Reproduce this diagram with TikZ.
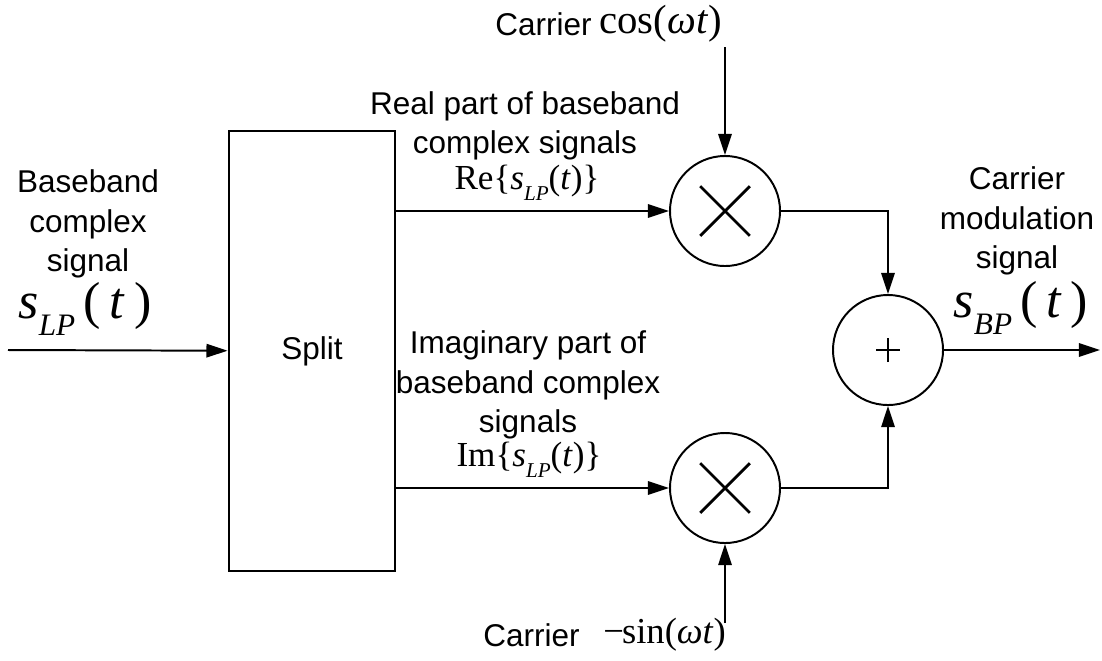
\documentclass[tikz,border=0pt]{standalone}
\usepackage{fontspec}
\setmainfont{Liberation Sans}
\newfontfamily\tnr{Liberation Serif}
\usetikzlibrary{arrows.meta}
\newcommand{\sub}[2]{\textit{#1}\raisebox{-0.32em}{\scalebox{0.6}{\textit{#2}}}}
\begin{document}
\begin{tikzpicture}[x=0.025cm, y=-0.025cm]
        \tikzstyle{proc} = [rectangle, draw=black, line width=2pt, minimum width=4.15cm, minimum height=11cm, text centered, font=\fontsize{22.4}{28}\selectfont]
        \tikzstyle{mult} = [circle, draw=black, line width=1.4pt, minimum size=2.75cm, inner sep=0pt,
            path picture={\draw[line width=2pt] ([shift={(-0.62cm,-0.62cm)}]path picture bounding box.center) -- ([shift={(0.62cm,0.62cm)}]path picture bounding box.center);
                          \draw[line width=2pt] ([shift={(-0.62cm,0.62cm)}]path picture bounding box.center) -- ([shift={(0.62cm,-0.62cm)}]path picture bounding box.center);}]
        \tikzstyle{sum} = [circle, draw=black, line width=1.4pt, minimum size=2.75cm, inner sep=0pt,
            path picture={\draw[line width=1.1pt] ([xshift=-0.3cm]path picture bounding box.center) -- ([xshift=0.3cm]path picture bounding box.center);
                          \draw[line width=1.1pt] ([yshift=-0.3cm]path picture bounding box.center) -- ([yshift=0.3cm]path picture bounding box.center);}]
        \tikzstyle{lbl} = [align=center, inner sep=0pt, font=\fontsize{22.4}{28}\selectfont]
        \tikzstyle{mth} = [inner sep=0pt, font=\tnr]
        \tikzstyle{arrow} = [line width=1.4pt, -{Triangle[length=15pt, width=9.5pt]}]
        \useasboundingbox (0,0) rectangle (1102,660);
        % blocks
        \node (split) [proc] at (312, 351) {Split};
        \node (m1) [mult] at (725, 211) {};
        \node (m2) [mult] at (725, 488) {};
        \node (add) [sum] at (888, 350) {};
        \coordinate (cin) at (8, 350);
        \coordinate (cout) at (1100, 350);
        \coordinate (ctop) at (725, 47);
        \coordinate (cbot) at (725, 623);
        % labels
        \node (lin) [lbl] at (88, 224) {Baseband\\complex\\signal};
        \node (sin) [mth] at (85, 309) {\fontsize{37}{37}\selectfont\sub{s}{LP}\,(\,\textit{t}\,)};
        \node (lre) [lbl] at (525, 126) {Real part of baseband\\complex signals};
        \node (sre) [mth] at (527, 183) {\fontsize{25}{25}\selectfont Re\{\sub{s}{LP}(\textit{t})\}};
        \node (lim) [lbl] at (528, 385) {Imaginary part of\\baseband complex\\signals};
        \node (sim) [mth] at (529, 460) {\fontsize{25}{25}\selectfont Im\{\sub{s}{LP}(\textit{t})\}};
        \node (lout) [lbl] at (1017, 221) {Carrier\\modulation\\signal};
        \node (sout) [mth] at (1021, 308) {\fontsize{37}{37}\selectfont\sub{s}{BP}\,(\,\textit{t}\,)};
        \node (ltop) [lbl, anchor=east] at (592, 24) {Carrier};
        \node (stop) [mth, anchor=west] at (599, 24) {\fontsize{29}{29}\selectfont cos(\textit{ωt})};
        \node (lbot) [lbl, anchor=east] at (580, 635) {Carrier};
        \node (sbot) [mth, anchor=west] at (603, 635) {\fontsize{26}{26}\selectfont −\kern-0.05em sin(\textit{ωt})};
        % connectors
        \draw[arrow] (cin) to (split);
        \draw[arrow] (split.east |- m1) to (m1);
        \draw[arrow] (split.east |- m2) to (m2);
        \draw[arrow] (ctop) to (m1);
        \draw[arrow] (cbot) to (m2);
        \draw[arrow] (m1) -| (add);
        \draw[arrow] (m2) -| (add);
        \draw[arrow] (add) to (cout);
    \end{tikzpicture}
\end{document}
